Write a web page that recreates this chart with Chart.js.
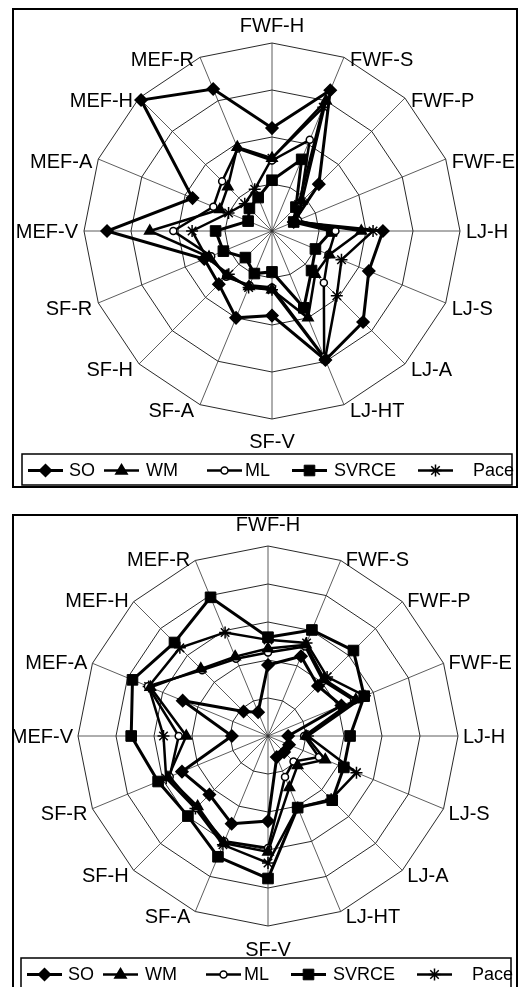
<!DOCTYPE html>
<html>
<head>
<meta charset="utf-8">
<script src="https://cdn.jsdelivr.net/npm/chart.js@4.4.0/dist/chart.umd.min.js"></script>
<style>
  html, body { margin: 0; padding: 0; background: #fff; width: 519px; height: 987px; overflow: hidden; }
  .frame { position: absolute; left: 12px; width: 506px; border: 2px solid #000; box-sizing: border-box; background: #fff; }
  #f1 { top: 8px; height: 480px; }
  #f2 { top: 514px; height: 490px; }
  canvas { position: absolute; left: 0; top: 0; }
</style>
</head>
<body>
<div class="frame" id="f1"><canvas id="c1" width="502" height="476"></canvas></div>
<div class="frame" id="f2"><canvas id="c2" width="502" height="477"></canvas></div>
<script>
// Evaluation dimensions, clockwise from the top
const categories = ['FWF-H', 'FWF-S', 'FWF-P', 'FWF-E', 'LJ-H', 'LJ-S', 'LJ-A', 'LJ-HT',
                    'SF-V', 'SF-A', 'SF-H', 'SF-R', 'MEF-V', 'MEF-A', 'MEF-H', 'MEF-R'];
const seriesNames = ['SO', 'WM', 'ML', 'SVRCE', 'Pace'];

// Upper chart (scale 0-4)
const so1    = [2.19, 3.24, 1.41, 0.50, 2.36, 2.23, 2.74, 2.97, 1.80, 2.00, 1.60, 1.56, 3.51, 1.83, 3.94, 3.27];
const wm1    = [1.55, 3.00, 0.90, 0.55, 1.90, 1.32, 1.30, 2.00, 1.25, 1.28, 1.35, 1.45, 2.60, 1.20, 1.33, 1.93];
const ml1    = [1.50, 2.10, 0.85, 0.60, 1.35, 1.30, 1.56, 2.90, 1.20, 1.25, 1.38, 1.40, 2.10, 1.35, 1.50, 1.90];
const svrce1 = [1.08, 1.65, 0.72, 0.50, 1.27, 1.00, 1.19, 1.77, 0.87, 0.98, 0.80, 1.12, 1.20, 0.55, 0.68, 0.77];
const pace1  = [1.55, 2.85, 0.80, 0.50, 2.15, 1.60, 1.95, 2.95, 1.25, 1.30, 1.30, 1.50, 1.70, 1.00, 0.82, 0.96];

// Lower chart (scale 0-5)
const so2    = [1.87, 2.27, 1.86, 2.09, 0.53, 0.60, 0.60, 0.60, 2.24, 2.50, 2.18, 2.45, 0.95, 2.43, 0.91, 0.68];
const wm2    = [2.30, 2.60, 2.10, 2.50, 1.00, 1.63, 1.10, 1.47, 3.05, 3.05, 2.62, 2.85, 2.15, 3.35, 2.50, 2.26];
const ml2    = [2.20, 2.55, 2.05, 2.45, 0.95, 1.45, 0.95, 1.17, 2.95, 3.00, 2.68, 2.80, 2.35, 3.42, 2.45, 2.20];
const svrce2 = [2.60, 3.02, 3.18, 2.74, 2.16, 2.16, 2.39, 2.04, 3.75, 3.44, 2.98, 3.13, 3.60, 3.86, 3.48, 3.95];
const pace2  = [2.53, 2.65, 2.20, 2.76, 1.05, 2.52, 2.35, 2.04, 3.34, 3.10, 2.70, 2.90, 2.75, 3.40, 3.28, 2.95];

// Marker look for each series
const seriesStyles = [
  { pointStyle: 'rectRot',  radius: 6,   fill: '#000', border: 1.5, line: 3 },
  { pointStyle: 'triangle', radius: 6,   fill: '#000', border: 1.5, line: 2.5 },
  { pointStyle: 'circle',   radius: 3.5, fill: '#fff', border: 1.5, line: 2.5 },
  { pointStyle: 'rect',     radius: 7.5, fill: '#000', border: 1,   line: 3 },
  { pointStyle: 'star',     radius: 6,   fill: '#000', border: 1.5, line: 2.5 }
];

// Legend slots inside the box: where each line sample and each name starts
const legendLineX = [6, 82, 185, 270, 396];
const legendTextX = [47, 124, 223, 312, 451];

const FONT = "'Liberation Sans', Arial, Helvetica, sans-serif";

function buildDatasets(values) {
  return values.map((data, i) => {
    const st = seriesStyles[i];
    return {
      label: seriesNames[i],
      data: data,
      fill: false,
      borderColor: '#000',
      borderWidth: st.line,
      pointStyle: st.pointStyle,
      pointRadius: st.radius,
      pointHoverRadius: st.radius,
      pointBackgroundColor: st.fill,
      pointBorderColor: '#000',
      pointBorderWidth: st.border
    };
  });
}

function drawMarker(ctx, st, x, y) {
  const r = st.radius;
  ctx.save();
  ctx.fillStyle = st.fill;
  ctx.strokeStyle = '#000';
  ctx.lineWidth = st.border;
  ctx.beginPath();
  if (st.pointStyle === 'rectRot') {
    ctx.moveTo(x, y - r); ctx.lineTo(x + r, y); ctx.lineTo(x, y + r); ctx.lineTo(x - r, y); ctx.closePath();
    ctx.fill(); ctx.stroke();
  } else if (st.pointStyle === 'triangle') {
    ctx.moveTo(x, y - r); ctx.lineTo(x + r * 0.95, y + r * 0.6); ctx.lineTo(x - r * 0.95, y + r * 0.6); ctx.closePath();
    ctx.fill(); ctx.stroke();
  } else if (st.pointStyle === 'circle') {
    ctx.arc(x, y, r, 0, Math.PI * 2);
    ctx.fill(); ctx.stroke();
  } else if (st.pointStyle === 'rect') {
    const s = r * Math.SQRT1_2;
    ctx.rect(x - s, y - s, 2 * s, 2 * s);
    ctx.fill(); ctx.stroke();
  } else if (st.pointStyle === 'star') {
    for (let k = 0; k < 4; k++) {
      const a = k * Math.PI / 4;
      ctx.moveTo(x - Math.sin(a) * r, y - Math.cos(a) * r);
      ctx.lineTo(x + Math.sin(a) * r, y + Math.cos(a) * r);
    }
    ctx.stroke();
  }
  ctx.restore();
}

// Boxed legend: line sample with marker, then the series name
const boxLegend = {
  id: 'boxLegend',
  afterDraw(chart, args, opts) {
    const ctx = chart.ctx;
    const { left, top, width, height } = opts;
    ctx.save();
    ctx.strokeStyle = '#000';
    ctx.lineWidth = 1.5;
    ctx.strokeRect(left, top, width, height);
    ctx.font = opts.fontSize + 'px ' + FONT;
    ctx.textBaseline = 'middle';
    ctx.fillStyle = '#000';
    const lineLen = 35;
    const cy = top + height / 2 + 1;
    chart.data.datasets.forEach((d, i) => {
      const st = seriesStyles[i];
      const x = left + legendLineX[i];
      ctx.beginPath();
      ctx.lineWidth = st.line;
      ctx.moveTo(x, cy); ctx.lineTo(x + lineLen, cy);
      ctx.stroke();
      drawMarker(ctx, st, x + lineLen / 2, cy);
      ctx.fillText(d.label, left + legendTextX[i], cy + 1);
    });
    ctx.restore();
  }
};

// Category names placed beside each outer vertex of the web
const spokeLabels = {
  id: 'spokeLabels',
  afterDraw(chart, args, opts) {
    const s = chart.scales.r;
    const ctx = chart.ctx;
    const n = chart.data.labels.length;
    ctx.save();
    ctx.font = opts.fontSize + 'px ' + FONT;
    ctx.fillStyle = '#000';
    chart.data.labels.forEach((lab, i) => {
      const p = s.getPointPosition(i, s.drawingArea);
      const ang = i * 360 / n;
      let x = p.x, y = p.y;
      if (ang === 0) {
        ctx.textAlign = 'center'; ctx.textBaseline = 'alphabetic';
        y -= opts.topGap;
      } else if (ang === 180) {
        ctx.textAlign = 'center'; ctx.textBaseline = 'top';
        y += opts.bottomGap;
      } else {
        ctx.textAlign = ang < 180 ? 'left' : 'right';
        ctx.textBaseline = 'middle';
        x += ang < 180 ? opts.sideGap : -opts.sideGap;
        if (ang !== 90 && ang !== 270) y += (ang > 90 && ang < 270) ? opts.lowerShift : opts.upperShift;
        y += 1;
      }
      ctx.fillText(lab, x, y);
    });
    ctx.restore();
  }
};

function makeRadar(canvasId, values, maxVal, legendOpts, labelOpts) {
  return new Chart(document.getElementById(canvasId), {
    type: 'radar',
    data: { labels: categories, datasets: buildDatasets(values) },
    options: {
      responsive: false,
      animation: false,
      events: [],
      layout: { padding: { left: 10, right: 10, top: 10, bottom: 45 } },
      elements: { line: { tension: 0 } },
      plugins: {
        legend: { display: false },
        tooltip: { enabled: false },
        boxLegend: legendOpts,
        spokeLabels: labelOpts
      },
      scales: {
        r: {
          min: 0,
          max: maxVal,
          ticks: { stepSize: 1, display: false },
          grid: { color: '#111', lineWidth: 0.9 },
          angleLines: { color: '#333', lineWidth: 0.8 },
          pointLabels: { display: false }
        }
      }
    },
    plugins: [boxLegend, spokeLabels]
  });
}

// Nudge the layout padding until the plot sits at the wanted centre and radius
function placeRadar(chart, cx, cy, radius) {
  for (let k = 0; k < 6; k++) {
    const s = chart.scales.r;
    const dr = s.drawingArea - radius;
    const dx = cx - s.xCenter, dy = cy - s.yCenter;
    if (Math.abs(dr) < 1 && Math.abs(dx) < 1 && Math.abs(dy) < 1) break;
    const p = chart.options.layout.padding;
    p.left += dr + dx; p.right += dr - dx; p.top += dr + dy; p.bottom += dr - dy;
    chart.update();
  }
}

const chart1 = makeRadar('c1', [so1, wm1, ml1, svrce1, pace1], 4,
  { left: 8, top: 444, width: 490, height: 31, fontSize: 18 },
  { fontSize: 20, topGap: 11, bottomGap: 13, sideGap: 6, upperShift: 2, lowerShift: 6 });
placeRadar(chart1, 258, 221, 188);

const chart2 = makeRadar('c2', [so2, wm2, ml2, svrce2, pace2], 5,
  { left: 7, top: 442, width: 490, height: 31, fontSize: 18 },
  { fontSize: 20, topGap: 15, bottomGap: 14, sideGap: 5, upperShift: -1, lowerShift: 5 });
placeRadar(chart2, 254, 220, 190);
</script>
</body>
</html>
